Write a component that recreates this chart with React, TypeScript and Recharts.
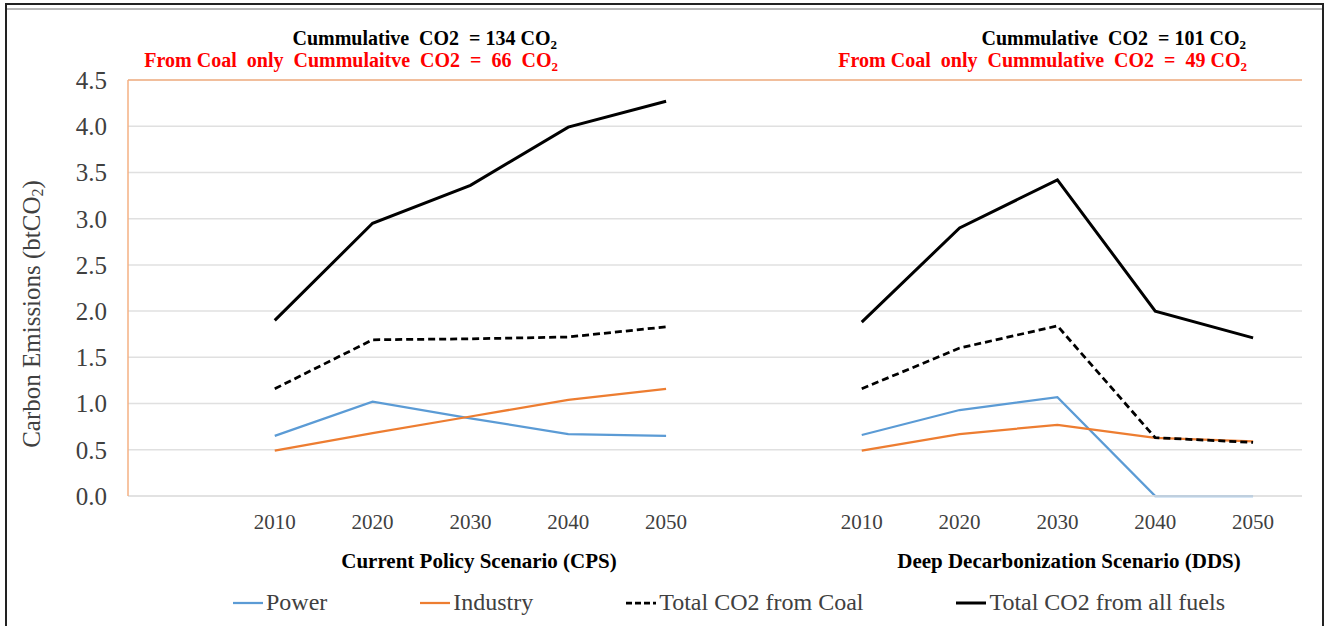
import React from "react";
import {
  CartesianGrid,
  Legend,
  Line,
  LineChart,
  ReferenceLine,
  XAxis,
  YAxis,
} from "recharts";

const years = ["2010", "2020", "2030", "2040", "2050"];
const scenarios = ["CPS", "DDS"];

// values, btCO2
const powerCPS = [0.65, 1.02, 0.84, 0.67, 0.65];
const industryCPS = [0.49, 0.68, 0.86, 1.04, 1.16];
const coalCPS = [1.16, 1.69, 1.7, 1.72, 1.83];
const allFuelsCPS = [1.9, 2.95, 3.36, 3.99, 4.27];

const powerDDS = [0.66, 0.93, 1.07, 0, 0];
const industryDDS = [0.49, 0.67, 0.77, 0.63, 0.59];
const coalDDS = [1.16, 1.6, 1.84, 0.63, 0.58];
const allFuelsDDS = [1.88, 2.9, 3.42, 2.0, 1.71];

const yTicks = [0, 0.5, 1, 1.5, 2, 2.5, 3, 3.5, 4, 4.5];

const seriesValues: Record<string, Record<string, number[]>> = {
  CPS: { power: powerCPS, industry: industryCPS, coal: coalCPS, allFuels: allFuelsCPS },
  DDS: { power: powerDDS, industry: industryDDS, coal: coalDDS, allFuels: allFuelsDDS },
};

const series = [
  { key: "power", name: "Power", color: "#5B9BD5", width: 2.25, dash: undefined },
  { key: "industry", name: "Industry", color: "#ED7D31", width: 2.25, dash: undefined },
  { key: "coal", name: "Total CO2 from Coal", color: "#000000", width: 2.75, dash: "7 4" },
  { key: "allFuels", name: "Total CO2 from all fuels", color: "#000000", width: 3, dash: undefined },
];

// one empty slot in front of each scenario, like the excel sheet
const data: Record<string, any>[] = [];
scenarios.forEach((s) => {
  data.push({ key: `pad-${s}`, year: "" });
  years.forEach((y, i) => {
    const row: Record<string, any> = { key: `${s}-${y}`, year: y };
    series.forEach((se) => {
      row[se.key] = seriesValues[s][se.key][i];
    });
    data.push(row);
  });
});

const W = 1333;
const H = 626;
const PLOT_LEFT = 128;
const PLOT_RIGHT = 1302;
const PLOT_TOP = 80;
const PLOT_BOTTOM = 496;
const Y_AXIS_W = 60;
const X_AXIS_H = 40;
const halfBand = (PLOT_RIGHT - PLOT_LEFT) / data.length / 2;

const serif = '"Liberation Serif", "Times New Roman", serif';
const orange = "#F4B183";
const grid = "#E0E0E0";

const yearOf: Record<string, string> = {};
data.forEach((d) => (yearOf[d.key] = d.year));

function YTitle(props: any) {
  const vb = props.viewBox || { x: 68, y: 80, height: 416 };
  const cx = vb.x - 34;
  const cy = vb.y + vb.height / 2 + 26;
  return (
    <text
      x={cx}
      y={cy}
      transform={`rotate(-90, ${cx}, ${cy})`}
      textAnchor="middle"
      fill="#404040"
      fontFamily={serif}
      fontSize={25}
      dominantBaseline="middle"
    >
      <tspan>Carbon Emissions (btCO</tspan>
      <tspan fontSize={16} dy={5}>2</tspan>
      <tspan dy={-5}>)</tspan>
    </text>
  );
}

function LegendBox() {
  return (
    <div
      style={{
        display: "flex",
        alignItems: "center",
        justifyContent: "space-between",
        width: 992,
        fontFamily: serif,
        fontSize: 24,
        color: "#404040",
        whiteSpace: "nowrap",
      }}
    >
      {series.map((s) => (
        <div key={s.key} style={{ display: "flex", alignItems: "center" }}>
          <svg width={30} height={6} style={{ marginRight: 3 }}>
            <line
              x1={0}
              y1={3}
              x2={30}
              y2={3}
              stroke={s.color}
              strokeWidth={s.width}
              strokeDasharray={s.dash ? "6 3" : undefined}
            />
          </svg>
          <span>{s.name}</span>
        </div>
      ))}
    </div>
  );
}

function Sub2() {
  return (
    <tspan fontSize={13} dy={4}>
      2
    </tspan>
  );
}

function Annotations() {
  const bold = { fontFamily: serif, fontWeight: 700, whiteSpace: "pre" } as React.CSSProperties;
  return (
    <svg
      width={W}
      height={H}
      style={{ position: "absolute", left: 0, top: 0, pointerEvents: "none" }}
    >
      <text x={557} y={45} textAnchor="end" fontSize={20} fill="#000" style={bold}>
        {"Cummulative  CO2  = 134 CO"}
        <Sub2 />
      </text>
      <text x={558} y={67} textAnchor="end" fontSize={20} fill="#FF0000" style={bold}>
        {"From Coal  only  Cummulaitve  CO2  =  66  CO"}
        <Sub2 />
      </text>
      <text x={1246} y={45} textAnchor="end" fontSize={20} fill="#000" style={bold}>
        {"Cummulative  CO2  = 101 CO"}
        <Sub2 />
      </text>
      <text x={1247} y={67} textAnchor="end" fontSize={20} fill="#FF0000" style={bold}>
        {"From Coal  only  Cummulative  CO2  =  49 CO"}
        <Sub2 />
      </text>
      <text x={479} y={568} textAnchor="middle" fontSize={21} fill="#000" style={bold}>
        Current Policy Scenario (CPS)
      </text>
      <text x={1069} y={568} textAnchor="middle" fontSize={21} fill="#000" style={bold}>
        Deep Decarbonization Scenario (DDS)
      </text>
    </svg>
  );
}

export default function App() {
  return (
    <div
      style={{
        position: "absolute",
        left: 0,
        top: 0,
        width: W,
        height: H,
        background: "#fff",
        overflow: "hidden",
      }}
    >
      {/* picture frame */}
      <div
        style={{
          position: "absolute",
          left: 5,
          top: 3,
          width: 1319,
          height: 660,
          border: "2px solid #222",
          boxSizing: "border-box",
        }}
      />
      <div
        style={{
          position: "absolute",
          left: 7,
          top: 8,
          width: 1315,
          height: 2,
          background: "#B8B8B8",
        }}
      />
      <LineChart
        width={W}
        height={H}
        data={data}
        margin={{
          top: PLOT_TOP,
          left: PLOT_LEFT - Y_AXIS_W,
          right: W - PLOT_RIGHT,
          bottom: H - PLOT_BOTTOM - X_AXIS_H,
        }}
      >
        <CartesianGrid yAxisId="left" vertical={false} stroke={grid} strokeWidth={1.5} />
        <XAxis
          dataKey="key"
          height={X_AXIS_H}
          interval={0}
          padding={{ left: halfBand, right: halfBand }}
          tickFormatter={(k: string) => yearOf[k] ?? ""}
          tickLine={false}
          tickSize={6}
          tickMargin={12}
          axisLine={{ stroke: grid, strokeWidth: 1.5 }}
          tick={{ fill: "#404040", fontFamily: serif, fontSize: 21 }}
        />
        <YAxis
          yAxisId="left"
          width={Y_AXIS_W}
          domain={[0, 4.5]}
          ticks={yTicks}
          interval={0}
          tickFormatter={(v: number) => v.toFixed(1)}
          tickLine={false}
          tickSize={6}
          tickMargin={15}
          axisLine={{ stroke: orange, strokeWidth: 1.5 }}
          tick={{ fill: "#404040", fontFamily: serif, fontSize: 25 }}
          label={<YTitle />}
        />
        <YAxis
          yAxisId="right"
          orientation="right"
          width={0}
          domain={[0, 4.5]}
          tick={false}
          tickLine={false}
          axisLine={{ stroke: orange, strokeWidth: 1.5 }}
        />
        <ReferenceLine yAxisId="left" y={4.5} stroke={orange} strokeWidth={1.5} />
        <Legend
          verticalAlign="middle"
          align="center"
          layout="horizontal"
          content={<LegendBox />}
          wrapperStyle={{ position: "absolute", left: 233, top: 589, width: 992, height: 28 }}
        />
        {series.map((s) => (
          <Line
            key={s.key}
            yAxisId="left"
            type="linear"
            dataKey={s.key}
            name={s.name}
            stroke={s.color}
            strokeWidth={s.width}
            strokeDasharray={s.dash}
            dot={false}
            activeDot={false}
            connectNulls={false}
            isAnimationActive={false}
          />
        ))}
      </LineChart>
      <Annotations />
    </div>
  );
}
